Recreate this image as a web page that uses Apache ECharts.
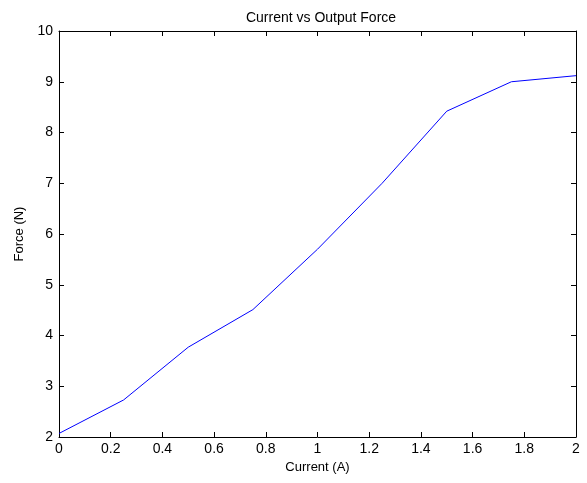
<!DOCTYPE html>
<html><head><meta charset="utf-8">
<script src="https://cdn.jsdelivr.net/npm/echarts@6/dist/echarts.min.js"></script>
<style>html,body{margin:0;padding:0;background:#fff}#c{width:587px;height:483px}</style>
</head><body><div id="c"></div>
<script>
var current = [0, 0.25, 0.5, 0.75, 1.0, 1.25, 1.5, 1.75, 2.0];
var force = [2.07, 2.73, 3.77, 4.51, 5.7, 7.0, 8.42, 9.0, 9.12];
var titleText = 'Current vs Output Force';
var xName = 'Current (A)';
var yName = 'Force (N)';

var font = 'Liberation Sans, Arial, sans-serif';
var axisCommon = {
  axisLine: {show: true, onZero: false, lineStyle: {color: '#000', width: 1}},
  axisTick: {show: true, inside: true, length: 5, lineStyle: {color: '#000'}},
  splitLine: {show: false}
};
var chart = echarts.init(document.getElementById('c'));
chart.setOption({
  animation: false,
  title: {text: titleText, left: 316, top: 6, textAlign: 'center',
    textStyle: {fontFamily: font, fontSize: 14, fontWeight: 'normal', color: '#000'}},
  grid: {left: 59, right: 11, top: 31, bottom: 46},
  xAxis: [
    Object.assign({type: 'value', min: 0, max: 2, interval: 0.2, position: 'bottom',
      name: xName, nameLocation: 'middle', nameGap: 23,
      nameTextStyle: {fontFamily: font, fontSize: 13, color: '#000'},
      axisLabel: {margin: 5, fontFamily: font, fontSize: 14, color: '#000',
        formatter: function(v){ return +v.toFixed(1) + ''; }}}, axisCommon),
    Object.assign({type: 'value', min: 0, max: 2, interval: 0.2, position: 'top',
      axisLabel: {show: false}}, axisCommon)
  ],
  yAxis: [
    Object.assign({type: 'value', min: 2, max: 10, interval: 1, position: 'left',
      name: yName, nameLocation: 'middle', nameGap: 33,
      nameTextStyle: {fontFamily: font, fontSize: 13, color: '#000'},
      axisLabel: {margin: 6, fontFamily: font, fontSize: 14, color: '#000'}}, axisCommon),
    Object.assign({type: 'value', min: 2, max: 10, interval: 1, position: 'right',
      axisLabel: {show: false}}, axisCommon)
  ],
  series: [{
    type: 'line', data: current.map(function(x, i){ return [x, force[i]]; }),
    showSymbol: false, lineStyle: {color: '#0000ff', width: 1}, silent: true
  }]
});
</script></body></html>
